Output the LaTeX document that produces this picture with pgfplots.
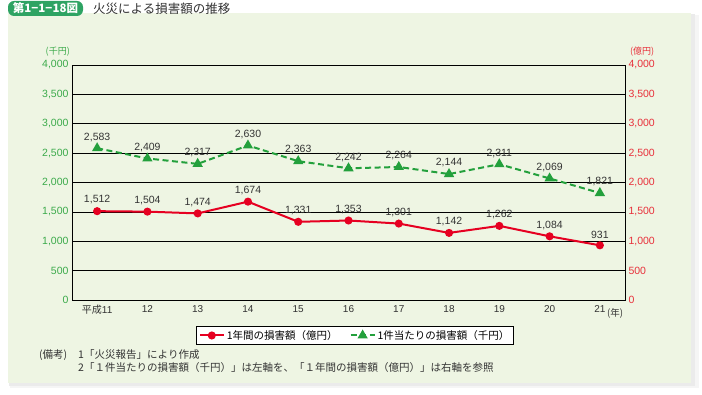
\documentclass[border=0pt]{standalone}
\usepackage{pgfplots}
\pgfplotsset{compat=1.18}
\usepackage{fontspec}
\setmainfont{Liberation Sans}
\newfontfamily\jp{Noto Sans CJK JP}
\definecolor{panel}{HTML}{EEF5E3}
\definecolor{badge}{HTML}{2EA363}
\definecolor{lred}{HTML}{E60021}
\definecolor{lgreen}{HTML}{23A03C}
\definecolor{tgreen}{HTML}{3BAA4A}
\definecolor{tred}{HTML}{E8303A}
\definecolor{txt}{HTML}{333333}
\pgfplotstableread{
x annual per
11 1512 2583
12 1504 2409
13 1474 2317
14 1674 2630
15 1331 2363
16 1353 2242
17 1301 2264
18 1142 2144
19 1262 2311
20 1084 2069
21 931 1821
}\data
\begin{document}
\begin{tikzpicture}[x=1pt,y=1pt]
\fill[white] (0,0) rectangle (702,394);
\fill[black!4] (10,6) rectangle (699,379);
\fill[black!8] (9,8) rectangle (695,380);
\fill[panel] (8,11) rectangle (691,381);
\fill[badge, rounded corners=6pt] (8,378) rectangle (83,393);
\node[white, font=\jp\bfseries\fontsize{11.5}{12}\selectfont, inner sep=0] at (45.5,385.5) {第1−1−18図};
\node[anchor=west, font=\jp\fontsize{12.5}{13}\selectfont, text=txt, inner sep=0] at (93,385) {火災による損害額の推移};
\node[font=\jp\fontsize{9}{10}\selectfont, text=tgreen, anchor=east, inner sep=0] at (70,342) {(千円)};
\node[font=\jp\fontsize{9}{10}\selectfont, text=tred, anchor=west, inner sep=0] at (630,342) {(億円)};
\node[font=\jp\fontsize{9.5}{10}\selectfont, text=txt, anchor=west, inner sep=0] at (607,81) {(年)};
\begin{axis}[at={(72pt,94pt)}, anchor=south west, width=553pt, height=235pt, scale only axis,
  xmin=10.5, xmax=21.5, ymin=0, ymax=4000,
  axis line style={black, line width=0.8pt},
  ymajorgrids, grid style={black, line width=0.7pt},
  major tick length=0pt,
  ytick={0,500,...,4000},
  scaled y ticks=false,
  /pgf/number format/1000 sep={,},
  /pgf/number format/assume math mode=true,
  yticklabel style={text=tgreen, font=\fontsize{10.5}{11}\selectfont},
  xtick={11,...,21},
  xticklabels={{\jp 平成}11,12,13,14,15,16,17,18,19,20,21},
  xticklabel style={text=txt, font=\fontsize{10}{11}\selectfont, yshift=-2pt},
  nodes near coords,
  every node near coord/.append style={font=\fontsize{10.5}{11}\selectfont, text=txt, yshift=2.5pt},
  legend style={at={(0.512,-0.11)}, anchor=north, legend columns=2, draw=black, line width=0.8pt,
    font=\jp\fontsize{10.5}{11}\selectfont, inner sep=2pt,
    /tikz/every even column/.append style={column sep=10pt}},
  legend image code/.code={\draw[mark repeat=2,mark phase=2,line width=2pt] plot coordinates {(0pt,0pt)(12pt,0pt)(24pt,0pt)};},
  legend cell align=left,
]
\addplot[lred, line width=2pt, mark=*, mark size=3pt] table[x=x, y=annual] {\data};
\addlegendentry{1年間の損害額（億円）}
\addplot[lgreen, line width=2pt, dash pattern=on 6pt off 3.5pt, mark=triangle*, mark size=4pt, mark options={solid}] table[x=x, y=per] {\data};
\addlegendentry{1件当たりの損害額（千円）}
\end{axis}
\begin{axis}[at={(72pt,94pt)}, anchor=south west, width=553pt, height=235pt, scale only axis,
  xmin=10.5, xmax=21.5, ymin=0, ymax=4000,
  axis y line*=right, axis x line=none,
  axis line style={black, line width=0.8pt},
  major tick length=0pt,
  ytick={0,500,...,4000},
  scaled y ticks=false,
  /pgf/number format/1000 sep={,},
  /pgf/number format/assume math mode=true,
  yticklabel style={text=tred, font=\fontsize{10.5}{11}\selectfont},
]
\addplot[draw=none] coordinates {(11,0)};
\end{axis}
\node[font=\jp\fontsize{10.5}{11}\selectfont, text=txt, anchor=west, inner sep=0] at (39,39) {(備考)};
\node[font=\jp\fontsize{10.5}{11}\selectfont, text=txt, anchor=west, inner sep=0] at (78,39) {1};
\node[font=\jp\fontsize{10.5}{11}\selectfont, text=txt, anchor=west, inner sep=0] at (84,39) {「火災報告」により作成};
\node[font=\jp\fontsize{10.5}{11}\selectfont, text=txt, anchor=west, inner sep=0] at (78,26) {2};
\node[font=\jp\fontsize{10.5}{11}\selectfont, text=txt, anchor=west, inner sep=0] at (84,26) {「１件当たりの損害額（千円）」は左軸を、「１年間の損害額（億円）」は右軸を参照};
\end{tikzpicture}
\end{document}
